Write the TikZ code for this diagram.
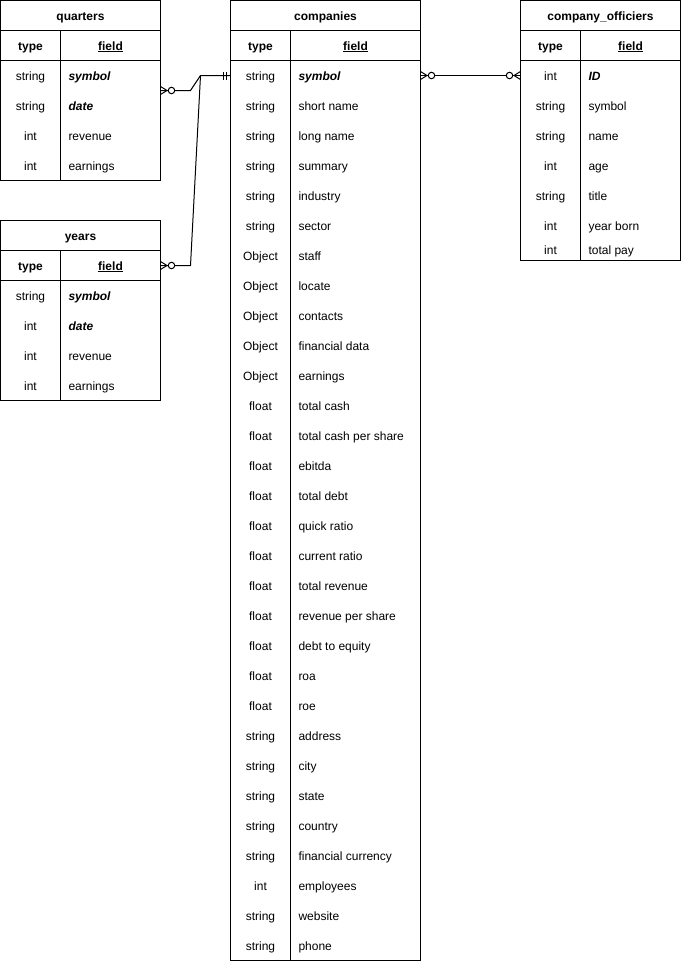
\documentclass[tikz,border=0pt]{standalone}
\usepackage{fontspec}
\setmainfont{Liberation Sans}
\begin{document}
\begin{tikzpicture}[x=1bp,y=-1bp,line width=1bp,
  every node/.style={font=\fontsize{12bp}{14bp}\selectfont,inner sep=0pt},
  frame/.style={draw,anchor=north west,fill=white,outer sep=0pt},
  ttl/.style={font=\fontsize{12bp}{14bp}\selectfont\bfseries,anchor=base},
  hdr/.style={font=\fontsize{12bp}{14bp}\selectfont\bfseries,anchor=base},
  tcell/.style={anchor=base},
  plain/.style={anchor=base west},
  pkey/.style={anchor=base west,font=\fontsize{12bp}{14bp}\selectfont\bfseries\itshape},
  conn/.style={draw,line width=1bp},
  ring/.style={draw,fill=white,line width=1bp,circle,minimum size=6.5bp,inner sep=0pt}
]
\useasboundingbox (0,0) rectangle (681,962);

% ---------- quarters ----------
\node[frame,minimum width=160bp,minimum height=180bp] (quarters) at (0.5,0.5) {};
\draw (0.5,30.5) -- (160.5,30.5);
\draw (0.5,60.5) -- (160.5,60.5);
\draw (60.5,30.5) -- (60.5,180.5);
\node[ttl] (quarters-title) at (80.5,20) {quarters};
\node[hdr] (quarters-h1) at (30.5,50) {type};
\node[hdr] (quarters-h2) at (110.5,50) {\underline{field}};
\foreach \t/\f/\s [count=\i] in {string/symbol/pkey,string/date/pkey,int/revenue/plain,int/earnings/plain}{
  \node[tcell] (quarters-t\i) at (30.5,50+30*\i) {\t};
  \node[\s] (quarters-f\i) at (68,50+30*\i) {\f};
}

% ---------- years ----------
\node[frame,minimum width=160bp,minimum height=180bp] (years) at (0.5,220.5) {};
\draw (0.5,250.5) -- (160.5,250.5);
\draw (0.5,280.5) -- (160.5,280.5);
\draw (60.5,250.5) -- (60.5,400.5);
\node[ttl] (years-title) at (80.5,240) {years};
\node[hdr] (years-h1) at (30.5,270) {type};
\node[hdr] (years-h2) at (110.5,270) {\underline{field}};
\foreach \t/\f/\s [count=\i] in {string/symbol/pkey,int/date/pkey,int/revenue/plain,int/earnings/plain}{
  \node[tcell] (years-t\i) at (30.5,270+30*\i) {\t};
  \node[\s] (years-f\i) at (68,270+30*\i) {\f};
}

% ---------- companies ----------
\node[frame,minimum width=190bp,minimum height=960bp] (companies) at (230.5,0.5) {};
\draw (230.5,30.5) -- (420.5,30.5);
\draw (230.5,60.5) -- (420.5,60.5);
\draw (290.5,30.5) -- (290.5,960.5);
\node[ttl] (companies-title) at (325.5,20) {companies};
\node[hdr] (companies-h1) at (260.5,50) {type};
\node[hdr] (companies-h2) at (355.5,50) {\underline{field}};
\foreach \t/\f/\s [count=\i] in {
  string/symbol/pkey,
  string/short name/plain,
  string/long name/plain,
  string/summary/plain,
  string/industry/plain,
  string/sector/plain,
  Object/staff/plain,
  Object/locate/plain,
  Object/contacts/plain,
  Object/financial data/plain,
  Object/earnings/plain,
  float/total cash/plain,
  float/total cash per share/plain,
  float/ebitda/plain,
  float/total debt/plain,
  float/quick ratio/plain,
  float/current ratio/plain,
  float/total revenue/plain,
  float/revenue per share/plain,
  float/debt to equity/plain,
  float/roa/plain,
  float/roe/plain,
  string/address/plain,
  string/city/plain,
  string/state/plain,
  string/country/plain,
  string/financial currency/plain,
  int/employees/plain,
  string/website/plain,
  string/phone/plain}{
  \node[tcell] (companies-t\i) at (260.5,50+30*\i) {\t};
  \node[\s] (companies-f\i) at (298,50+30*\i) {\f};
}

% ---------- company_officiers ----------
\node[frame,minimum width=160bp,minimum height=260bp] (officers) at (520.5,0.5) {};
\draw (520.5,30.5) -- (680.5,30.5);
\draw (520.5,60.5) -- (680.5,60.5);
\draw (580.5,30.5) -- (580.5,260.5);
\node[ttl] (officers-title) at (600.5,20) {company\_officiers};
\node[hdr] (officers-h1) at (550.5,50) {type};
\node[hdr] (officers-h2) at (630.5,50) {\underline{field}};
\foreach \t/\f/\s [count=\i] in {int/ID/pkey,string/symbol/plain,string/name/plain,int/age/plain,string/title/plain,int/year born/plain}{
  \node[tcell] (officers-t\i) at (550.5,50+30*\i) {\t};
  \node[\s] (officers-f\i) at (588,50+30*\i) {\f};
}
\node[tcell] (officers-t7) at (550.5,254.5) {int};
\node[plain] (officers-f7) at (588,254.5) {total pay};

% ---------- connectors ----------
\coordinate (qa) at (160.5,90.5);
\coordinate (qb) at (190.5,90.5);
\coordinate (ya) at (160.5,265.5);
\coordinate (yb) at (190.5,265.5);
\coordinate (jn) at (200.5,75.5);
\coordinate (ca) at (230.5,75.5);
\coordinate (cb) at (420.5,75.5);
\coordinate (oa) at (520.5,75.5);

\draw[conn] (qa) -- (qb) -- (jn) -- (ca);
\draw[conn] (ya) -- (yb) -- (jn);
\draw[conn] (cb) -- (oa);

% one-mandatory bars at companies
\draw[conn] ([xshift=-7bp,yshift=-4bp]ca) -- ([xshift=-7bp,yshift=4bp]ca);
\draw[conn] ([xshift=-4bp,yshift=-4bp]ca) -- ([xshift=-4bp,yshift=4bp]ca);

% crow's feet (zero to many)
\draw[conn] ([yshift=-4bp]qa) -- ([xshift=6.5bp]qa) -- ([yshift=4bp]qa);
\draw[conn] ([yshift=-4bp]ya) -- ([xshift=6.5bp]ya) -- ([yshift=4bp]ya);
\draw[conn] ([yshift=-4bp]cb) -- ([xshift=6.5bp]cb) -- ([yshift=4bp]cb);
\draw[conn] ([yshift=-4bp]oa) -- ([xshift=-6.5bp]oa) -- ([yshift=4bp]oa);

\node[ring] (rq) at ([xshift=11bp]qa) {};
\node[ring] (ry) at ([xshift=11bp]ya) {};
\node[ring] (rc) at ([xshift=11bp]cb) {};
\node[ring] (ro) at ([xshift=-11bp]oa) {};
\end{tikzpicture}
\end{document}
